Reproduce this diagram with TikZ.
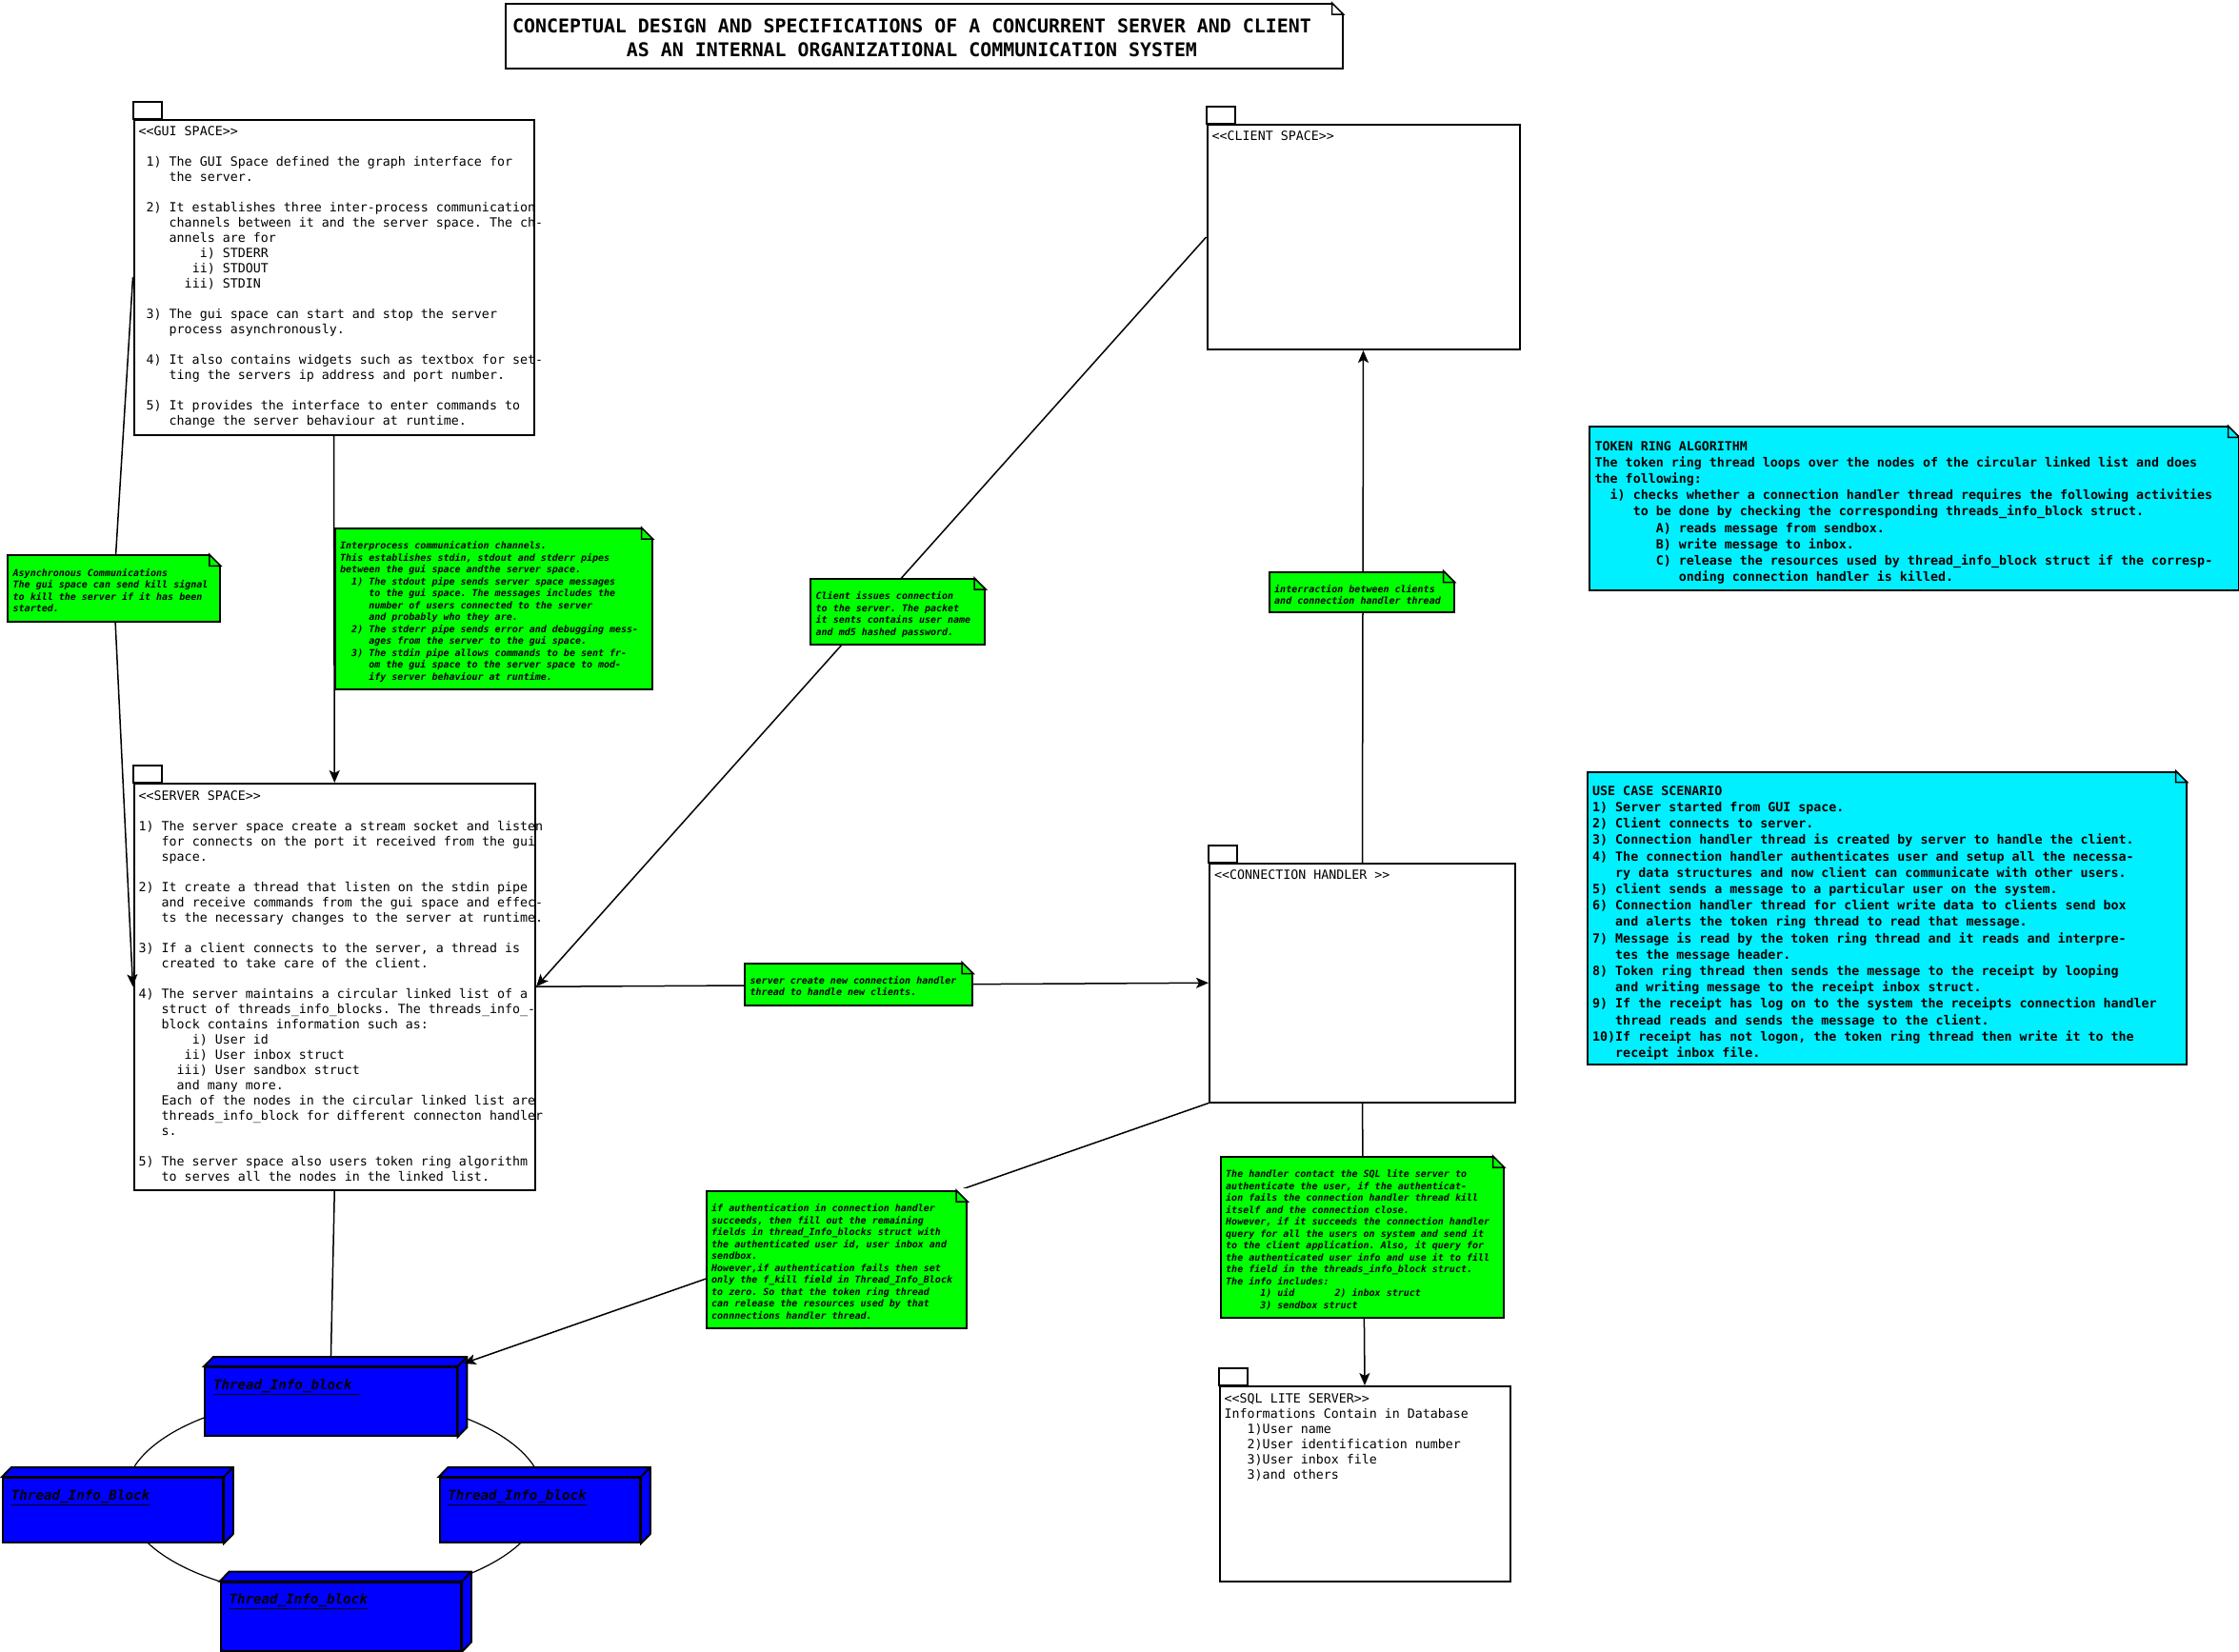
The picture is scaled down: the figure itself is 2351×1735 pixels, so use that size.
\documentclass[tikz,border=0pt]{standalone}
\usepackage{fontspec}
\newfontfamily\umlfont[Ligatures=TeXOff]{DejaVu Sans Mono}
\usetikzlibrary{arrows.meta}
\frenchspacing

\definecolor{notegreen}{RGB}{0,255,0}
\definecolor{notecyan}{RGB}{0,240,255}
\definecolor{blockblue}{RGB}{0,0,255}

\tikzset{
  pkg/.style={draw, line width=2pt, fill=white, anchor=north west, inner sep=0pt},
  pkgtext/.style={anchor=north west, inner sep=0pt, xshift=6pt, yshift=-7pt,
    font=\umlfont\fontsize{13.3}{16}\selectfont},
  note/.style={draw, line width=2pt, fill=#1, anchor=north west, inner sep=0pt},
  notetext/.style={anchor=north west, inner sep=0pt, xshift=6.5pt, yshift=-13.8pt,
    font=\umlfont\bfseries\itshape\fontsize{10}{12.5}\selectfont},
  bigtext/.style={anchor=north west, inner sep=0pt, xshift=6.5pt, yshift=-13.6pt,
    font=\umlfont\bfseries\fontsize{13.3}{17.2}\selectfont},
  titletext/.style={anchor=north, inner sep=0pt, xshift=-12.5pt, yshift=-13.4pt,
    font=\umlfont\bfseries\fontsize{19.9}{25.5}\selectfont},
  tblock/.style={draw, line width=2pt, fill=blockblue, anchor=north west, inner sep=0pt,
    append after command={\pgfextra{
      \draw[line width=2pt, fill=blockblue] (\tikzlastnode.north west) -- ++(9.8pt,10pt)
        -- ([shift={(9.8pt,10pt)}]\tikzlastnode.north east) -- ([shift={(9.8pt,10pt)}]\tikzlastnode.south east)
        -- (\tikzlastnode.south east) -- (\tikzlastnode.north east) -- cycle;
      \draw[line width=2pt] (\tikzlastnode.north east) -- ++(9.8pt,10pt);
    }}},
  tblocktext/.style={anchor=north west, inner sep=0pt, xshift=9.5pt, yshift=-13pt,
    font=\umlfont\bfseries\itshape\fontsize{14.2}{17}\selectfont},
  conn/.style={line width=1.5pt},
  >={Stealth[length=13pt,width=11pt,inset=3pt]}
}

\begin{document}
\begin{tikzpicture}[x=1pt, y=-1pt]

\path[fill=white, use as bounding box] (0,0) rectangle (2351,1735);

% Thread info ring
\draw[line width=1.2pt] (351,1572) ellipse [x radius=220pt, y radius=106pt];
\node[tblock, minimum width=264.3pt, minimum height=72pt,
  label={[tblocktext]north west:\underline{Thread\_Info\_block~}}] (thread-top) at (214.3,1435) {};
\node[tblock, minimum width=230.8pt, minimum height=68pt,
  label={[tblocktext]north west:\underline{Thread\_Info\_Block}}] (thread-left) at (2.2,1551) {};
\node[tblock, minimum width=210.3pt, minimum height=68pt,
  label={[tblocktext]north west:\underline{Thread\_Info\_block}}] (thread-right) at (460.7,1551) {};
\node[tblock, minimum width=252.2pt, minimum height=72pt,
  label={[tblocktext]north west:\underline{Thread\_Info\_block}}] (thread-bottom) at (230.8,1660.7) {};

% Packages
\node[pkg, minimum width=420pt, minimum height=331.5pt,
  label={[pkgtext]north west:{\begin{tabular}{@{}l@{}}
<<GUI SPACE>>\\
\\
~1) The GUI Space defined the graph interface for\\
~~~~the server.\\
\\
~2) It establishes three inter-process communication\\
~~~~channels between it and the server space. The ch-\\
~~~~annels are for\\
~~~~~~~~i) STDERR\\
~~~~~~~ii) STDOUT\\
~~~~~~iii) STDIN\\
\\
~3) The gui space can start and stop the server\\
~~~~process asynchronously.\\
\\
~4) It also contains widgets such as textbox for set-\\
~~~~ting the servers ip address and port number.\\
\\
~5) It provides the interface to enter commands to\\
~~~~change the server behaviour at runtime.
\end{tabular}}}] (gui) at (139.5,124.5) {};

\node[pkg, minimum width=421.5pt, minimum height=426.5pt,
  label={[pkgtext]north west:{\begin{tabular}{@{}l@{}}
<<SERVER SPACE>>\\
\\
1) The server space create a stream socket and listen\\
~~~for connects on the port it received from the gui\\
~~~space.\\
\\
2) It create a thread that listen on the stdin pipe\\
~~~and receive commands from the gui space and effec-\\
~~~ts the necessary changes to the server at runtime.\\
\\
3) If a client connects to the server, a thread is\\
~~~created to take care of the client.\\
\\
4) The server maintains a circular linked list of a\\
~~~struct of threads\_info\_blocks. The threads\_info\_-\\
~~~block contains information such as:\\
~~~~~~~i) User id\\
~~~~~~ii) User inbox struct\\
~~~~~iii) User sandbox struct\\
~~~~~and many more.\\
~~~Each of the nodes in the circular linked list are\\
~~~threads\_info\_block for different connecton handler\\
~~~s.\\
\\
5) The server space also users token ring algorithm\\
~~~to serves all the nodes in the linked list.
\end{tabular}}}] (server) at (139.5,822) {};

\node[pkg, minimum width=328pt, minimum height=236pt,
  label={[pkgtext]north west:{<<CLIENT SPACE>>}}] (client) at (1266.5,130) {};

\node[pkg, minimum width=321pt, minimum height=250.5pt,
  label={[pkgtext]north west:{<<CONNECTION HANDLER~>>}}] (handler) at (1269,906) {};

\node[pkg, minimum width=305pt, minimum height=204.5pt,
  label={[pkgtext]north west:{\begin{tabular}{@{}l@{}}
<<SQL LITE SERVER>>\\
Informations Contain in Database\\
~~~1)User name\\
~~~2)User identification number\\
~~~3)User inbox file\\
~~~3)and others
\end{tabular}}}] (sql) at (1279.5,1455) {};

\foreach \p in {gui, server, client, handler, sql}
  \draw[line width=2pt] (\p.north west) rectangle ++(30,-18);

% Connectors
\coordinate (asyncpt) at (119.4,618);
\draw[conn, ->] (gui.south) -- (server.north);
\draw[conn, ->] (gui.west) -- (asyncpt) -- (server.west);
\draw[conn, ->] (client.west) -- (server.east);
\draw[conn, ->] (server.east) -- (handler.west);
\draw[conn, ->] (handler.north) -- (client.south);
\draw[conn, ->] (handler.south) -- (sql.north);
\draw[conn, ->] (handler.south west) -- ([xshift=6pt,yshift=3pt]thread-top.north east);
\draw[conn] (server.south) -- ([yshift=10pt]thread-top.north);

% Title
\node[note=white, minimum width=879pt, minimum height=67.5pt,
  label={[titletext]north:{\begin{tabular}{@{}c@{}}
CONCEPTUAL DESIGN AND SPECIFICATIONS OF A CONCURRENT SERVER AND CLIENT\\
AS AN INTERNAL ORGANIZATIONAL COMMUNICATION SYSTEM
\end{tabular}}}] (title) at (529.5,3) {};

% Green notes
\node[note=notegreen, anchor=center, minimum width=222.8pt, minimum height=69.4pt,
  label={[notetext]north west:{\begin{tabular}{@{}l@{}}
Asynchronous Communications\\
The gui space can send kill signal\\
to kill the server if it has been\\
started.
\end{tabular}}}] (async) at (asyncpt) {};

\node[note=notegreen, minimum width=333pt, minimum height=169pt,
  label={[notetext]north west:{\begin{tabular}{@{}l@{}}
Interprocess communication channels.\\
This establishes stdin, stdout and stderr pipes\\
between the gui space andthe server space.\\
~~1) The stdout pipe sends server space messages\\
~~~~~to the gui space. The messages includes the\\
~~~~~number of users connected to the server\\
~~~~~and probably who they are.\\
~~2) The stderr pipe sends error and debugging mess-\\
~~~~~ages from the server to the gui space.\\
~~3) The stdin pipe allows commands to be sent fr-\\
~~~~~om the gui space to the server space to mod-\\
~~~~~ify server behaviour at runtime.
\end{tabular}}}] (ipc) at (350.5,554) {};

\node[note=notegreen, minimum width=183pt, minimum height=69pt,
  label={[notetext]north west:{\begin{tabular}{@{}l@{}}
Client issues connection\\
to the server. The packet\\
it sents contains user name\\
and md5 hashed password.
\end{tabular}}}] (connect) at (850,607) {};

\node[note=notegreen, minimum width=194pt, minimum height=42.5pt,
  label={[notetext]north west:{\begin{tabular}{@{}l@{}}
interraction between clients\\
and connection handler thread
\end{tabular}}}] (interact) at (1331.5,599.5) {};

\node[note=notegreen, minimum width=239pt, minimum height=44pt,
  label={[notetext]north west:{\begin{tabular}{@{}l@{}}
server create new connection handler\\
thread to handle new clients.
\end{tabular}}}] (spawn) at (781,1010.5) {};

\node[note=notegreen, minimum width=273.5pt, minimum height=143.5pt,
  label={[notetext]north west:{\begin{tabular}{@{}l@{}}
if authentication in connection handler\\
succeeds, then fill out the remaining\\
fields in thread\_Info\_blocks struct with\\
the authenticated user id, user inbox and\\
sendbox.\\
However,if authentication fails then set\\
only the f\_kill field in Thread\_Info\_Block\\
to zero. So that the token ring thread\\
can release the resources used by that\\
connnections handler thread.
\end{tabular}}}] (auth) at (740.5,1250) {};

\node[note=notegreen, minimum width=297pt, minimum height=169pt,
  label={[notetext]north west:{\begin{tabular}{@{}l@{}}
The handler contact the SQL lite server to\\
authenticate the user, if the authenticat-\\
ion fails the connection handler thread kill\\
itself and the connection close.\\
However, if it succeeds the connection handler\\
query for all the users on system and send it\\
to the client application. Also, it query for\\
the authenticated user info and use it to fill\\
the field in the threads\_info\_block struct.\\
The info includes:\\
~~~~~~1) uid~~~~~~~2) inbox struct\\
~~~~~~3) sendbox struct
\end{tabular}}}] (lookup) at (1280.5,1214) {};

% Cyan notes
\node[note=notecyan, minimum width=681.5pt, minimum height=171.5pt,
  label={[bigtext]north west:{\begin{tabular}{@{}l@{}}
TOKEN RING ALGORITHM\\
The token ring thread loops over the nodes of the circular linked list and does\\
the following:\\
~~i) checks whether a connection handler thread requires the following activities\\
~~~~~to be done by checking the corresponding threads\_info\_block struct.\\
~~~~~~~~A) reads message from sendbox.\\
~~~~~~~~B) write message to inbox.\\
~~~~~~~~C) release the resources used by thread\_info\_block struct if the corresp-\\
~~~~~~~~~~~onding connection handler is killed.
\end{tabular}}}] (tokenring) at (1668,447.3) {};

\node[note=notecyan, minimum width=629pt, minimum height=307.5pt,
  label={[bigtext]north west:{\begin{tabular}{@{}l@{}}
USE CASE SCENARIO\\
1) Server started from GUI space.\\
2) Client connects to server.\\
3) Connection handler thread is created by server to handle the client.\\
4) The connection handler authenticates user and setup all the necessa-\\
~~~ry data structures and now client can communicate with other users.\\
5) client sends a message to a particular user on the system.\\
6) Connection handler thread for client write data to clients send box\\
~~~and alerts the token ring thread to read that message.\\
7) Message is read by the token ring thread and it reads and interpre-\\
~~~tes the message header.\\
8) Token ring thread then sends the message to the receipt by looping\\
~~~and writing message to the receipt inbox struct.\\
9) If the receipt has log on to the system the receipts connection handler\\
~~~thread reads and sends the message to the client.\\
10)If receipt has not logon, the token ring thread then write it to the\\
~~~receipt inbox file.
\end{tabular}}}] (usecase) at (1665.5,809.5) {};

% Folded corners of the notes
\foreach \n/\c in {title/white, async/notegreen, ipc/notegreen, connect/notegreen,
    interact/notegreen, spawn/notegreen, auth/notegreen, lookup/notegreen,
    tokenring/notecyan, usecase/notecyan} {
  \fill[white] ([xshift=-13pt,yshift=2pt]\n.north east) -- ([xshift=2pt,yshift=2pt]\n.north east)
    -- ([xshift=2pt,yshift=-13pt]\n.north east) -- cycle;
  \draw[line width=1.5pt, fill=\c] ([xshift=-12pt]\n.north east) |- ([yshift=-12pt]\n.north east) -- cycle;
}

\end{tikzpicture}
\end{document}
